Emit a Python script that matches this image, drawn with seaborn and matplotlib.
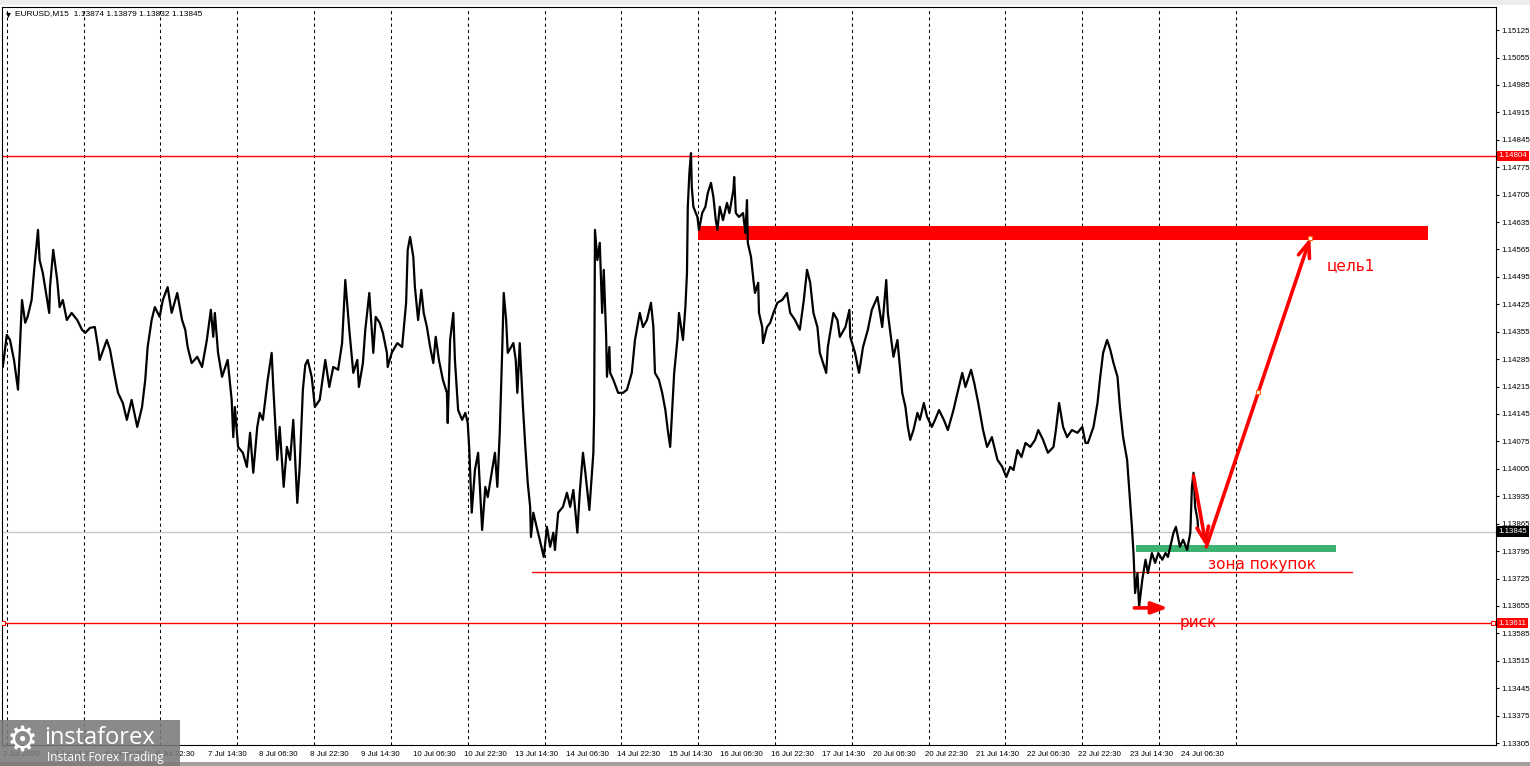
import numpy as np
import pandas as pd
import matplotlib
matplotlib.use("Agg")
import matplotlib.pyplot as plt
import matplotlib.transforms as mtransforms
from matplotlib.patches import Rectangle
import seaborn as sns

# EURUSD M15 closes: bar index from the left edge, price
seg1_bars = [0, 5, 9, 14, 19, 24, 28, 31, 36, 40, 44, 46, 50, 58, 59, 63, 68, 71, 75, 80,
             86, 93, 99, 103, 109, 115, 119, 121, 130, 134, 140, 144, 150, 155, 161, 168, 174, 178, 181, 186,
             190, 196, 200, 206, 211, 218, 224, 228, 231, 236, 243, 249, 255, 260, 263, 265, 269, 274, 281, 286,
             288, 290, 294, 300, 305, 309, 313, 318, 321, 325, 331, 336, 338, 343, 346, 351, 355, 359, 363, 365,
             368, 371, 375, 378, 381]
seg1_close = [1.14265, 1.14347, 1.14334, 1.14283, 1.14207, 1.14436, 1.14378, 1.14393, 1.14436, 1.14531,
              1.14615, 1.14538, 1.14505, 1.14403, 1.14469, 1.14564, 1.14487, 1.14418, 1.14436, 1.14385,
              1.14403, 1.14385, 1.14360, 1.14352, 1.14365, 1.14367, 1.14316, 1.14283, 1.14334, 1.14309,
              1.14240, 1.14199, 1.14173, 1.14130, 1.14181, 1.14112, 1.14163, 1.14232, 1.14316, 1.14385,
              1.14418, 1.14393, 1.14436, 1.14469, 1.14403, 1.14454, 1.14385, 1.14360, 1.14316, 1.14275,
              1.14291, 1.14265, 1.14334, 1.14411, 1.14342, 1.14403, 1.14301, 1.14240, 1.14283, 1.14181,
              1.14086, 1.14163, 1.14061, 1.14046, 1.14010, 1.14097, 1.13995, 1.14112, 1.14148, 1.14130,
              1.14232, 1.14301, 1.14214, 1.14028, 1.14112, 1.13959, 1.14061, 1.14028, 1.14130, 1.14046,
              1.13918, 1.14010, 1.14207, 1.14270, 1.14283]

seg2_bars = [386, 390, 396, 403, 408, 413, 419, 424, 428, 433, 438, 443, 445, 450, 453, 458, 463, 466, 471, 475,
             480, 481, 486, 493, 499, 504, 506, 509, 513, 515, 519, 523, 526, 530, 534, 538, 541, 545, 550, 555,
             556, 559, 563, 565, 569, 574, 578, 581, 583, 586, 590, 594, 599, 603, 606, 611, 615, 618, 621, 624,
             626, 629, 631, 638, 641, 643, 646, 650, 653, 656, 659, 660, 663, 668, 671, 676, 680, 684, 688, 690,
             694, 700, 705, 709, 713, 718, 721, 725, 728, 733, 738, 739, 740, 743, 746, 749, 751, 754, 755, 758]
seg2_close = [1.14240, 1.14163, 1.14181, 1.14283, 1.14214, 1.14265, 1.14258, 1.14326, 1.14487, 1.14360,
              1.14250, 1.14283, 1.14214, 1.14275, 1.14360, 1.14454, 1.14301, 1.14393, 1.14378, 1.14352,
              1.14301, 1.14265, 1.14301, 1.14326, 1.14316, 1.14429, 1.14564, 1.14597, 1.14546, 1.14469,
              1.14385, 1.14462, 1.14403, 1.14367, 1.14316, 1.14275, 1.14342, 1.14283, 1.14232, 1.14199,
              1.14122, 1.14334, 1.14403, 1.14283, 1.14155, 1.14130, 1.14148, 1.14122, 1.14053, 1.13893,
              1.14002, 1.14046, 1.13849, 1.13959, 1.13933, 1.13995, 1.14046, 1.13959, 1.14097, 1.14301,
              1.14454, 1.14385, 1.14301, 1.14326, 1.14283, 1.14199, 1.14326, 1.14163, 1.14061, 1.13969,
              1.13908, 1.13831, 1.13893, 1.13849, 1.13824, 1.13780, 1.13857, 1.13806, 1.13842, 1.13798,
              1.13893, 1.13908, 1.13944, 1.13908, 1.13951, 1.13842, 1.13944, 1.14046, 1.13995, 1.13900,
              1.14046, 1.14148, 1.14615, 1.14538, 1.14582, 1.14403, 1.14513, 1.14342, 1.14240, 1.14316]

seg3_bars = [759, 763, 769, 775, 780, 786, 790, 796, 800, 805, 810, 813, 815, 820, 824, 828, 831, 834, 839, 843,
             845, 850, 853, 855, 856, 858, 860, 861, 863, 868, 870, 874, 878, 881, 885, 888, 891, 893, 896, 900,
             905, 908, 913, 914, 916, 920, 925, 928, 930, 931, 935, 938, 940, 944, 945, 949, 950, 955, 959, 963,
             968, 974, 980, 984, 990, 996, 1001, 1005, 1009, 1013, 1018, 1021, 1029, 1031, 1038, 1043, 1046, 1053,
             1058, 1059, 1065, 1070, 1075, 1081, 1086, 1093, 1099, 1104, 1106, 1113, 1118, 1121, 1124, 1128, 1131, 1134]
seg3_close = [1.14250, 1.14232, 1.14199, 1.14199, 1.14207, 1.14250, 1.14334, 1.14403, 1.14367, 1.14385,
              1.14429, 1.14367, 1.14250, 1.14232, 1.14199, 1.14155, 1.14104, 1.14061, 1.14250, 1.14334,
              1.14403, 1.14334, 1.14418, 1.14505, 1.14674, 1.14760, 1.14811, 1.14725, 1.14674, 1.14648,
              1.14615, 1.14658, 1.14674, 1.14709, 1.14735, 1.14699, 1.14640, 1.14615, 1.14674, 1.14640,
              1.14684, 1.14658, 1.14717, 1.14750, 1.14658, 1.14648, 1.14658, 1.14607, 1.14691, 1.14582,
              1.14546, 1.14487, 1.14454, 1.14480, 1.14403, 1.14367, 1.14326, 1.14367, 1.14378, 1.14403,
              1.14429, 1.14436, 1.14454, 1.14403, 1.14385, 1.14360, 1.14436, 1.14513, 1.14480, 1.14403,
              1.14367, 1.14301, 1.14250, 1.14316, 1.14403, 1.14385, 1.14342, 1.14367, 1.14411, 1.14342,
              1.14301, 1.14250, 1.14316, 1.14360, 1.14411, 1.14444, 1.14367, 1.14487, 1.14403, 1.14291,
              1.14334, 1.14265, 1.14199, 1.14163, 1.14112, 1.14079]

seg4_bars = [1138, 1143, 1146, 1151, 1155, 1161, 1165, 1170, 1176, 1181, 1188, 1193, 1199, 1203, 1210, 1214,
             1219, 1225, 1230, 1236, 1243, 1249, 1254, 1259, 1263, 1268, 1273, 1278, 1284, 1290, 1294, 1300,
             1306, 1313, 1316, 1320, 1325, 1330, 1336, 1343, 1349, 1353, 1356, 1363, 1368, 1371, 1375, 1380,
             1384, 1388, 1393, 1396, 1400, 1405, 1408, 1411, 1413, 1415, 1418, 1420, 1424, 1428, 1431, 1436,
             1440, 1444, 1449, 1453, 1456, 1463, 1466, 1471, 1475, 1480, 1484, 1486, 1488, 1490, 1493, 1494]
seg4_close = [1.14104, 1.14148, 1.14130, 1.14173, 1.14138, 1.14112, 1.14130, 1.14155, 1.14130, 1.14104,
              1.14155, 1.14199, 1.14250, 1.14214, 1.14258, 1.14224, 1.14173, 1.14104, 1.14061, 1.14086,
              1.14028, 1.14010, 1.13984, 1.14010, 1.14002, 1.14053, 1.14035, 1.14071, 1.14061, 1.14079,
              1.14104, 1.14079, 1.14046, 1.14061, 1.14104, 1.14173, 1.14112, 1.14086, 1.14104, 1.14097,
              1.14112, 1.14071, 1.14071, 1.14112, 1.14173, 1.14232, 1.14301, 1.14334, 1.14309, 1.14275,
              1.14240, 1.14163, 1.14086, 1.14028, 1.13944, 1.13857, 1.13790, 1.13688, 1.13739, 1.13653,
              1.13722, 1.13773, 1.13739, 1.13790, 1.13765, 1.13790, 1.13773, 1.13790, 1.13780, 1.13842,
              1.13857, 1.13806, 1.13824, 1.13798, 1.13842, 1.13959, 1.13995, 1.13908, 1.13875, 1.13845]

# time axis labels, one every 64 bars (16 h of M15)
date_labels = ["2 Jul 2020", "3 Jul 14:30", "6 Jul 06:30", "6 Jul 22:30", "7 Jul 14:30", "8 Jul 06:30",
               "8 Jul 22:30", "9 Jul 14:30", "10 Jul 06:30", "10 Jul 22:30", "13 Jul 14:30", "14 Jul 06:30",
               "14 Jul 22:30", "15 Jul 14:30", "16 Jul 06:30", "16 Jul 22:30", "17 Jul 14:30", "20 Jul 06:30",
               "20 Jul 22:30", "21 Jul 14:30", "22 Jul 06:30", "22 Jul 22:30", "23 Jul 14:30", "24 Jul 06:30"]
date_ticks = [64 * i for i in range(len(date_labels))]
grid_bars = [5 + 96 * i for i in range(17)]

price_ticks = [1.13305, 1.13375, 1.13445, 1.13515, 1.13585, 1.13655, 1.13725, 1.13795, 1.13865,
               1.13935, 1.14005, 1.14075, 1.14145, 1.14215, 1.14285, 1.14355, 1.14425, 1.14495,
               1.14565, 1.14635, 1.14705, 1.14775, 1.14845, 1.14915, 1.14985, 1.15055, 1.15125]

# drawn objects
level_resist = 1.14804
level_stop = 1.13611
level_bid = 1.13845
level_support = 1.13742
support_span = (661, 1686)
target_zone = (1.14589, 1.14625)
target_span = (869, 1781)
buy_zone = (1.13793, 1.13811)
buy_span = (1416, 1666)
pullback = [(1488, 1.13987), (1504, 1.13806)]
rally = [(1504, 1.13806), (1634, 1.14595)]
risk_arrow = [(1414, 1.13650), (1456, 1.13650)]

df = pd.DataFrame({
    "bar": seg1_bars + seg2_bars + seg3_bars + seg4_bars,
    "close": seg1_close + seg2_close + seg3_close + seg4_close,
})

sns.set_theme(style="white")
plt.rcParams["font.family"] = ["DejaVu Sans"]
small_font = ["Liberation Sans", "DejaVu Sans"]
small_size = 5.7

W, H = 1530, 766
fig = plt.figure(figsize=(W / 100, H / 100), dpi=100)
fig.patch.set_facecolor("white")
ax = fig.add_axes([2 / W, 21 / H, 1494 / W, 738 / H])
ax.set_facecolor("white")

# daily grid
for b in grid_bars:
    ax.axvline(b, color="black", lw=0.75, ls=(0, (3, 3)), zorder=1)

# horizontal levels
ax.axhline(level_bid, color="#c8c8c8", lw=1, zorder=1)
ax.axhline(level_resist, color="red", lw=1, zorder=2)
ax.axhline(level_stop, color="red", lw=1, zorder=2)
ax.plot([0, 1862], [level_stop, level_stop], ls="none", marker="s", ms=3,
        mfc="white", mec="red", mew=0.8, zorder=3)
ax.plot(support_span, [level_support, level_support], color="red", lw=1, zorder=2)

# zones
ax.add_patch(Rectangle((target_span[0], target_zone[0]), target_span[1] - target_span[0],
                       target_zone[1] - target_zone[0], fc="#ff0000", ec="none", zorder=2))
ax.add_patch(Rectangle((buy_span[0], buy_zone[0]), buy_span[1] - buy_span[0],
                       buy_zone[1] - buy_zone[0], fc="#3cb371", ec="none", zorder=2))

# price line
sns.lineplot(data=df, x="bar", y="close", color="black", lw=1.6,
             estimator=None, sort=False, ax=ax, zorder=4)

# forecast arrows
for start, end in (pullback, rally):
    ax.annotate("", xy=end, xytext=start, zorder=5,
                arrowprops=dict(arrowstyle="->,head_length=0.9,head_width=0.35",
                                color="red", lw=2.6, shrinkA=0, shrinkB=0))
ax.annotate("", xy=risk_arrow[1], xytext=risk_arrow[0], zorder=5,
            arrowprops=dict(arrowstyle="-|>,head_length=0.8,head_width=0.3",
                            color="red", lw=2.6, shrinkA=0, shrinkB=0))
mid = ((rally[0][0] + rally[1][0]) / 2, (rally[0][1] + rally[1][1]) / 2)
ax.plot([mid[0], rally[1][0]], [mid[1], rally[1][1]], ls="none", marker="s", ms=2.5,
        mfc="white", mec="#ff6600", mew=0.8, zorder=6)

ax.text(1684, 1.14523, "цель1", color="red", fontsize=11, ha="center", va="center", zorder=6)
ax.text(1573, 1.13762, "зона покупок", color="red", fontsize=11, ha="center", va="center", zorder=6)
ax.text(1494, 1.13612, "риск", color="red", fontsize=11, ha="center", va="center", zorder=6)

# axes
ax.set_xlim(-1, 1866)
ax.set_ylim(1.13300, 1.15184)
ax.set_xlabel("")
ax.set_ylabel("")
ax.yaxis.tick_right()
ax.set_yticks(price_ticks, [f"{p:.5f}" for p in price_ticks])
ax.set_xticks(date_ticks, date_labels)
for lab in ax.get_xticklabels():
    lab.set_ha("left")
    lab.set_family(small_font)
for lab in ax.get_yticklabels():
    lab.set_family(small_font)
ax.tick_params(axis="both", direction="out", length=2.5, width=0.8, color="black",
               labelsize=small_size, labelcolor="black", pad=1.5)
for s in ax.spines.values():
    s.set_color("black")
    s.set_linewidth(0.8)

# price tags on the scale
blend = mtransforms.blended_transform_factory(ax.transAxes, ax.transData)
for val, bg in ((level_resist, "red"), (level_bid, "black"), (level_stop, "red")):
    ax.text(1.0015, val, f"{val:.5f}", transform=blend, color="white", fontsize=small_size,
            family=small_font, ha="left", va="center", zorder=10, clip_on=False,
            bbox=dict(boxstyle="square,pad=0.2", fc=bg, ec="none"))

# symbol header
fig.text(6 / W, 1 - 14 / H, "▾", fontsize=7, color="black", va="center")
fig.text(15 / W, 1 - 14 / H, "EURUSD,M15  1.13874 1.13879 1.13832 1.13845", fontsize=small_size + 0.3,
         family=small_font, color="black", va="center")

# window chrome
fig.add_artist(Rectangle((0, 1 - 5 / H), 1, 5 / H, transform=fig.transFigure,
                         fc="#ececec", ec="none", zorder=0))
fig.add_artist(Rectangle((0, 0), 1, 4 / H, transform=fig.transFigure,
                         fc="#a0a0a0", ec="none", zorder=0))

# watermark logo
fig.add_artist(Rectangle((0, 0), 180 / W, 46 / H, transform=fig.transFigure,
                         fc="#7a7a7a", ec="none", alpha=0.88, zorder=20))
fig.text(22 / W, 1 - 741 / H, "⚙", fontsize=25, color="white", ha="center", va="center", zorder=21)
fig.text(44 / W, 1 - 738 / H, "instaforex", fontsize=17, color="white", family=["Open Sans", "DejaVu Sans"],
         ha="left", va="center", zorder=21)
fig.text(47 / W, 1 - 757 / H, "Instant Forex Trading", fontsize=8.5, color="white",
         family=["Open Sans", "DejaVu Sans"], ha="left", va="center", zorder=21)

fig.savefig("out.png", dpi=100)
